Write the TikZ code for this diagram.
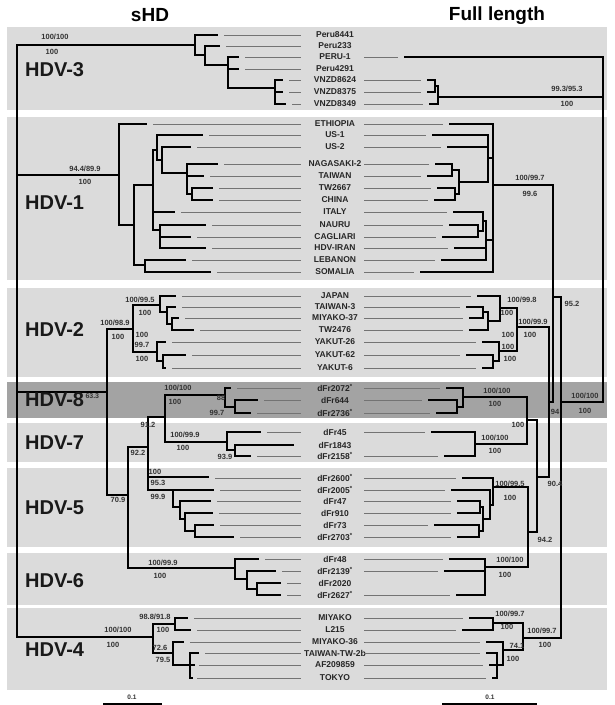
\documentclass[tikz,border=0pt]{standalone}
\usepackage{fontspec}
\setmainfont{Liberation Sans}
\usetikzlibrary{positioning}

\begin{document}
\begin{tikzpicture}[x=1pt, y=-1pt,
    band/.style={fill=black!14, draw=none},
    darkband/.style={fill=black!36, draw=none},
    branch/.style={line width=2.9pt, line cap=rect, line join=miter},
    leader/.style={black!55, line width=0.6pt},
    leaf/.style={font=\fontsize{8.5}{9}\selectfont\bfseries, text=black!85, inner sep=0pt},
    boot/.style={font=\fontsize{7.5}{8}\selectfont\bfseries, text=black!80, inner sep=0pt},
    clade/.style={font=\fontsize{20}{22}\selectfont\bfseries, text=black!90, anchor=west, inner sep=0pt},
    title/.style={font=\fontsize{19}{21}\selectfont\bfseries, inner sep=0pt}]

    \fill[white] (0,0) rectangle (614,705);
    \useasboundingbox (0,0) rectangle (614,705);

    % genotype bands
    \foreach \a/\b in {27/110, 117/280, 288/377, 423/462, 468/547, 553/605, 608/690}
        \fill[band] (7,\a) rectangle (607,\b);
    \fill[darkband] (7,382) rectangle (607,418);

    \node[title] (shd) at (150,15) {sHD};
    \node[title] (full) at (497,16) {Full length};

    % leaves: name/text/y/left tip/right tip
    \foreach \nm/\txt/\y/\l/\r in {
        peru8441/Peru8441/35/217/0, peru233/Peru233/46/219/0, peru1/PERU-1/57/238/405,
        peru4291/Peru4291/69/238/0, vnzd8624/VNZD8624/80/282/428,
        vnzd8375/VNZD8375/92/282/428, vnzd8349/VNZD8349/104/285/430,
        ethiopia/ETHIOPIA/124/146/450, us1/US-1/135/202/433, us2/US-2/147/190/448,
        nagasaki/NAGASAKI-2/164/217/436, taiwan/TAIWAN/176/203/428, tw2667/TW2667/188/212/438,
        china/CHINA/200/212/435, italy/ITALY/212/174/454, nauru/NAURU/225/205/450,
        cagliari/CAGLIARI/237/190/443, iran/HDV-IRAN/248/205/455,
        lebanon/LEBANON/260/185/442, somalia/SOMALIA/272/210/421,
        japan/JAPAN/296/175/478, taiwan3/TAIWAN-3/307/175/467, miyako37/MIYAKO-37/318/178/470,
        tw2476/TW2476/330/193/470, yakut26/YAKUT-26/342/165/483,
        yakut62/YAKUT-62/355/185/467, yakut6/YAKUT-6/368/165/483,
        dfr2072/{dFr2072\textsuperscript{*}}/388/230/447, dfr644/dFr644/400/257/429,
        dfr2736/{dFr2736\textsuperscript{*}}/413/250/437,
        dfr45/dFr45/432/260/432, dfr1843/dFr1843/445/293/0,
        dfr2158/{dFr2158\textsuperscript{*}}/456/250/445,
        dfr2600/{dFr2600\textsuperscript{*}}/478/208/463, dfr2005/{dFr2005\textsuperscript{*}}/490/213/452,
        dfr47/dFr47/501/210/458, dfr910/dFr910/513/212/458, dfr73/dFr73/525/213/435,
        dfr2703/{dFr2703\textsuperscript{*}}/537/233/458,
        dfr48/dFr48/559/258/450, dfr2139/{dFr2139\textsuperscript{*}}/571/275/445,
        dfr2020/dFr2020/583/280/0, dfr2627/{dFr2627\textsuperscript{*}}/595/280/457,
        miyako/MIYAKO/618/187/470, l215/L215/630/190/463, miyako36/MIYAKO-36/642/183/487,
        twtw/TAIWAN-TW-2b/653/198/487, af209859/AF209859/665/192/490, tokyo/TOKYO/678/190/493}
    {
        \node[leaf] (\nm) at (335,\y) {\txt};
        \ifnum\l<290 \draw[leader] (\l+7,\y) -- (301,\y);\fi
        \ifnum\r>0 \draw[leader] (364,\y) -- (\r-7,\y);\fi
    }

    % sHD tree
    \draw[branch] (195,45) -| (17,637) -- (153,637);
    \draw[branch] (17,175) -- (119,175);
    \draw[branch] (17,392) -- (107,392);
    \draw[branch] (217,35) -| (195,55) -- (205,55);
    \draw[branch] (219,46) -| (205,65) -- (228,65);
    \draw[branch] (238,57) -| (228,88) -- (275,88);
    \draw[branch] (228,69) -- (238,69);
    \draw[branch] (282,80) -| (275,104) -- (285,104);
    \draw[branch] (275,92) -- (282,92);
    \draw[branch] (146,124) -| (119,225) -- (134,225);
    \draw[branch] (153,185) -| (134,265) -- (145,265);
    \draw[branch] (202,135) -| (157,160) -- (162,160);
    \draw[branch] (190,147) -| (162,173) -- (187,173);
    \draw[branch] (217,164) -| (187,194) -- (192,194);
    \draw[branch] (187,176) -- (203,176);
    \draw[branch] (212,188) -| (192,200) -- (212,200);
    \draw[branch] (157,150) -| (153,230) -- (160,230);
    \draw[branch] (153,212) -- (174,212);
    \draw[branch] (205,225) -| (160,248) -- (205,248);
    \draw[branch] (160,237) -- (190,237);
    \draw[branch] (185,260) -| (145,272) -- (210,272);
    \draw[branch] (133,329) -| (107,495) -- (128,495);
    \draw[branch] (160,305) -| (133,352) -- (157,352);
    \draw[branch] (175,296) -| (160,312) -- (167,312);
    \draw[branch] (175,307) -| (167,324) -- (172,324);
    \draw[branch] (178,318) -| (172,330) -- (193,330);
    \draw[branch] (165,342) -| (157,361) -- (163,361);
    \draw[branch] (185,355) -| (163,368) -- (165,368);
    \draw[branch] (148,447) -| (128,568) -- (235,568);
    \draw[branch] (165,417) -| (148,490) -- (173,490);
    \draw[branch] (148,477) -- (208,477);
    \draw[branch] (225,395) -| (165,442) -- (227,442);
    \draw[branch] (230,388) -| (225,407) -- (235,407);
    \draw[branch] (257,400) -| (235,413) -- (250,413);
    \draw[branch] (260,432) -| (227,450) -- (235,450);
    \draw[branch] (293,445) -| (235,456) -- (250,456);
    \draw[branch] (213,490) -| (173,507) -- (180,507);
    \draw[branch] (210,501) -| (180,519) -- (185,519);
    \draw[branch] (212,513) -| (185,531) -- (195,531);
    \draw[branch] (213,525) -| (195,537) -- (233,537);
    \draw[branch] (258,559) -| (235,579) -- (247,579);
    \draw[branch] (275,571) -| (247,589) -- (257,589);
    \draw[branch] (280,583) -| (257,595) -- (280,595);
    \draw[branch] (175,624) -| (153,653) -- (173,653);
    \draw[branch] (187,618) -| (175,630) -- (190,630);
    \draw[branch] (183,642) -| (173,665) -- (190,665);
    \draw[branch] (198,653) -| (190,678) -- (192,678);
    \draw[branch] (190,665) -- (194,665);

    % full length tree
    \draw[branch] (405,57) -| (603,402) -- (561,402);
    \draw[branch] (428,80) -| (435,92) -- (428,92);
    \draw[branch] (435,86) -| (438,104) -- (430,104);
    \draw[branch] (438,97) -- (603,97);
    \draw[branch] (436,164) -| (452,176) -- (428,176);
    \draw[branch] (438,188) -| (455,200) -- (435,200);
    \draw[branch] (452,170) -| (459,194) -- (455,194);
    \draw[branch] (459,182) -- (488,182);
    \draw[branch] (433,135) -| (488,182);
    \draw[branch] (448,147) -- (488,147);
    \draw[branch] (450,225) -| (478,237) -- (443,237);
    \draw[branch] (454,212) -| (483,231) -- (478,231);
    \draw[branch] (483,221) -| (486,260) -- (442,260);
    \draw[branch] (455,248) -- (486,248);
    \draw[branch] (450,124) -| (493,272) -- (421,272);
    \draw[branch] (488,158) -- (493,158);
    \draw[branch] (486,240) -- (493,240);
    \draw[branch] (493,185) -- (553,185);
    \draw[branch] (553,185) |- (549,402);
    \draw[branch] (553,297) -| (561,638) -- (523,638);
    \draw[branch] (517,327) -| (549,477) -- (537,477);
    \draw[branch] (527,420) -| (537,532) -- (528,532);
    \draw[branch] (463,397) -| (527,444) -- (475,444);
    \draw[branch] (447,388) -| (463,407) -- (457,407);
    \draw[branch] (429,400) -| (457,413) -- (437,413);
    \draw[branch] (432,432) -| (475,456) -- (445,456);
    \draw[branch] (493,487) -| (528,567) -- (485,567);
    \draw[branch] (463,478) -| (493,505) -- (490,505);
    \draw[branch] (452,490) -| (490,519) -- (483,519);
    \draw[branch] (458,501) -| (480,513) -- (458,513);
    \draw[branch] (435,525) -| (479,537) -- (458,537);
    \draw[branch] (480,507) -| (483,531) -- (479,531);
    \draw[branch] (450,559) -| (485,595) -- (457,595);
    \draw[branch] (445,571) -- (485,571);
    \draw[branch] (467,307) -| (483,318) -- (470,318);
    \draw[branch] (483,312) -| (488,330) -- (470,330);
    \draw[branch] (478,296) -| (500,321) -- (488,321);
    \draw[branch] (500,308) -| (517,351) -- (499,351);
    \draw[branch] (467,355) -| (493,368) -- (483,368);
    \draw[branch] (483,342) -| (499,361) -- (493,361);
    \draw[branch] (470,618) -| (493,630) -- (463,630);
    \draw[branch] (493,623) -| (523,650) -- (503,650);
    \draw[branch] (487,642) -| (503,665) -- (497,665);
    \draw[branch] (487,653) -| (497,678) -- (493,678);
    \draw[branch] (490,665) -- (497,665);

    % genotype names
    \node[clade] (hdv3) at (25,70) {HDV-3};
    \node[clade] (hdv1) at (25,203) {HDV-1};
    \node[clade] (hdv2) at (25,330) {HDV-2};
    \node[clade] (hdv8) at (25,400) {HDV-8};
    \node[clade] (hdv7) at (25,443) {HDV-7};
    \node[clade] (hdv5) at (25,508) {HDV-5};
    \node[clade] (hdv6) at (25,581) {HDV-6};
    \node[clade] (hdv4) at (25,650) {HDV-4};
    \node[boot, font=\fontsize{7}{7}\selectfont\bfseries, right=1pt of hdv8.north east, yshift=-3pt] (hdv8sup) {63.3};

    % support values
    \foreach \x/\y/\t [count=\i] in {
        55/37/100\slash 100, 52/52/100, 85/169/94.4\slash 89.9, 85/182/100,
        115/323/100\slash 98.9, 118/337/100, 140/300/100\slash 99.5, 145/313/100,
        142/335/100, 142/345/99.7, 142/359/100,
        178/388/100\slash 100, 175/402/100, 221/398/88, 217/413/99.7,
        148/425/91.2, 185/435/100\slash 99.9, 183/448/100, 225/457/93.9,
        138/453/92.2, 118/500/70.9, 155/472/100, 158/483/95.3, 158/497/99.9,
        163/563/100\slash 99.9, 160/576/100, 118/630/100\slash 100, 113/645/100,
        155/617/98.8\slash 91.8, 163/630/100, 160/648/72.6, 163/660/79.5}
        \node[boot] (bs\i) at (\x,\y) {\t};
    \foreach \x/\y/\t [count=\i] in {
        567/89/99.3\slash 95.3, 567/104/100, 530/178/100\slash 99.7, 530/194/99.6,
        572/304/95.2, 522/300/100\slash 99.8, 507/313/100, 533/322/100\slash 99.9,
        530/335/100, 508/335/100, 508/347/100, 510/359/100,
        585/396/100\slash 100, 585/411/100, 555/412/94,
        497/391/100\slash 100, 495/404/100, 518/425/100,
        495/438/100\slash 100, 495/451/100, 555/484/90.4,
        510/484/100\slash 99.5, 510/498/100, 545/540/94.2,
        510/560/100\slash 100, 505/575/100, 510/614/100\slash 99.7, 507/627/100,
        542/631/100\slash 99.7, 545/645/100, 517/646/74.1, 513/659/100}
        \node[boot] (bf\i) at (\x,\y) {\t};

    % scale bars
    \node[boot, font=\fontsize{6.5}{7}\selectfont\bfseries] (scl) at (132,697) {0.1};
    \node[boot, font=\fontsize{6.5}{7}\selectfont\bfseries] (scr) at (490,697) {0.1};
    \draw[line width=1.5pt] (103,704) -- (162,704);
    \draw[line width=1.5pt] (442,704) -- (537,704);
\end{tikzpicture}
\end{document}
